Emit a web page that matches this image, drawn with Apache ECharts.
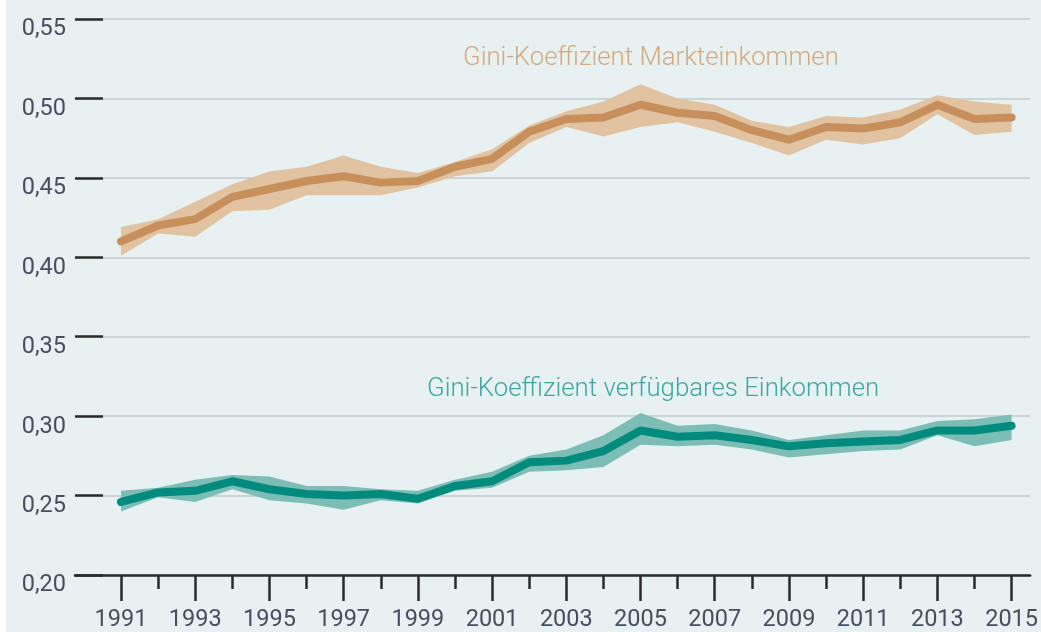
<!DOCTYPE html>
<html>
<head>
<meta charset="utf-8">
<script src="https://cdn.jsdelivr.net/npm/echarts@6/dist/echarts.min.js"></script>
<style>
html,body{margin:0;padding:0;background:#ffffff;}
#chart{position:absolute;left:6px;top:0;width:1035px;height:632px;background:#e7f1f2;}
</style>
</head>
<body>
<div id="chart"></div>
<script>
const years = [1991,1992,1993,1994,1995,1996,1997,1998,1999,2000,2001,2002,2003,2004,2005,2006,2007,2008,2009,2010,2011,2012,2013,2014,2015];
const oddYears = [1991,1993,1995,1997,1999,2001,2003,2005,2007,2009,2011,2013,2015];
const evenYears = [1992,1994,1996,1998,2000,2002,2004,2006,2008,2010,2012,2014];

const marketMid  = [0.410,0.420,0.424,0.438,0.443,0.448,0.451,0.447,0.448,0.457,0.462,0.479,0.487,0.488,0.496,0.491,0.489,0.480,0.474,0.482,0.481,0.485,0.496,0.487,0.488];
const marketLow  = [0.401,0.415,0.413,0.429,0.430,0.439,0.439,0.439,0.444,0.451,0.454,0.472,0.482,0.476,0.482,0.485,0.479,0.472,0.464,0.474,0.471,0.475,0.490,0.477,0.479];
const marketHigh = [0.419,0.424,0.435,0.446,0.454,0.457,0.464,0.457,0.453,0.460,0.468,0.483,0.492,0.498,0.509,0.500,0.496,0.486,0.482,0.489,0.488,0.493,0.502,0.498,0.496];

const dispMid  = [0.246,0.252,0.253,0.259,0.254,0.251,0.250,0.251,0.248,0.256,0.259,0.271,0.272,0.278,0.291,0.287,0.288,0.285,0.281,0.283,0.284,0.285,0.291,0.291,0.294];
const dispLow  = [0.240,0.249,0.246,0.254,0.247,0.245,0.241,0.247,0.245,0.253,0.255,0.265,0.266,0.268,0.282,0.281,0.282,0.279,0.274,0.276,0.278,0.279,0.288,0.281,0.285];
const dispHigh = [0.253,0.255,0.260,0.263,0.262,0.256,0.256,0.254,0.253,0.260,0.265,0.275,0.279,0.288,0.302,0.294,0.295,0.291,0.285,0.288,0.291,0.291,0.297,0.298,0.301];

const labelMarket = 'Gini-Koeffizient Markteinkommen';
const labelDisp = 'Gini-Koeffizient verfügbares Einkommen';

const FONT = 'Roboto';
const TAN = '#c78f5b', TAN_BAND = '#e2c3a1';
const TEAL = '#008b7e', TEAL_BAND = '#7cbdb6';
const AXIS_TEXT = '#4a4c60';

function bandSeries(low, high, fill) {
  return {
    type: 'custom',
    silent: true,
    data: years.map((y, i) => [y, low[i], high[i]]),
    encode: { x: 0, y: [1, 2] },
    renderItem: function (params, api) {
      if (params.dataIndex !== 0) return null;
      const pts = [];
      for (let i = 0; i < years.length; i++) pts.push(api.coord([years[i], high[i]]));
      for (let i = years.length - 1; i >= 0; i--) pts.push(api.coord([years[i], low[i]]));
      return { type: 'polygon', shape: { points: pts }, style: { fill: fill } };
    },
    z: 2
  };
}

function lineSeries(mid, color) {
  return {
    type: 'line',
    data: years.map((y, i) => [y, mid[i]]),
    showSymbol: false,
    symbol: 'none',
    lineStyle: { color: color, width: 8, join: 'round', cap: 'round' },
    silent: true,
    z: 3
  };
}

const chart = echarts.init(document.getElementById('chart'), null, { renderer: 'canvas' });
chart.setOption({
  animation: false,
  backgroundColor: '#e7f1f2',
  grid: { left: 69, right: 9, top: 19, bottom: 54, containLabel: false },
  xAxis: [{
    type: 'value',
    min: 1989.76,
    max: 2015.5,
    splitLine: { show: false },
    axisLine: { show: true, lineStyle: { color: '#2b2b2b', width: 2.5 } },
    axisTick: { show: true, customValues: oddYears, length: 26, lineStyle: { color: '#2b2b2b', width: 2.5 } },
    axisLabel: { customValues: oddYears, margin: 33, color: AXIS_TEXT, fontFamily: FONT, fontSize: 23.5, fontWeight: 400, formatter: v => String(v) }
  }, {
    type: 'value',
    position: 'bottom',
    min: 1989.76,
    max: 2015.5,
    splitLine: { show: false },
    axisLine: { show: false },
    axisTick: { show: true, customValues: evenYears, length: 14, lineStyle: { color: '#2b2b2b', width: 2.5 } },
    axisLabel: { show: false }
  }],
  yAxis: {
    type: 'value',
    min: 0.20,
    max: 0.55,
    interval: 0.05,
    axisLine: { show: false },
    axisTick: { show: true, inside: true, length: 28, lineStyle: { color: '#2b2b2b', width: 2.5 } },
    splitLine: { show: true, lineStyle: { color: '#c6cacd', width: 1.5 } },
    axisLabel: {
      margin: 9,
      color: AXIS_TEXT, fontFamily: FONT, fontSize: 23.5, fontWeight: 400,
      verticalAlign: 'top', lineHeight: 21,
      formatter: v => v.toFixed(2).replace('.', ',')
    }
  },
  graphic: [
    { type: 'text', x: 457, y: 59, style: { text: labelMarket, fill: '#d6a87d', font: '300 25.8px ' + FONT, verticalAlign: 'middle', align: 'left' } },
    { type: 'text', x: 421, y: 390, style: { text: labelDisp, fill: '#3ea6a3', font: '300 25.8px ' + FONT, verticalAlign: 'middle', align: 'left' } }
  ],
  series: [
    bandSeries(marketLow, marketHigh, TAN_BAND),
    bandSeries(dispLow, dispHigh, TEAL_BAND),
    lineSeries(marketMid, TAN),
    lineSeries(dispMid, TEAL)
  ]
});
</script>
</body>
</html>
